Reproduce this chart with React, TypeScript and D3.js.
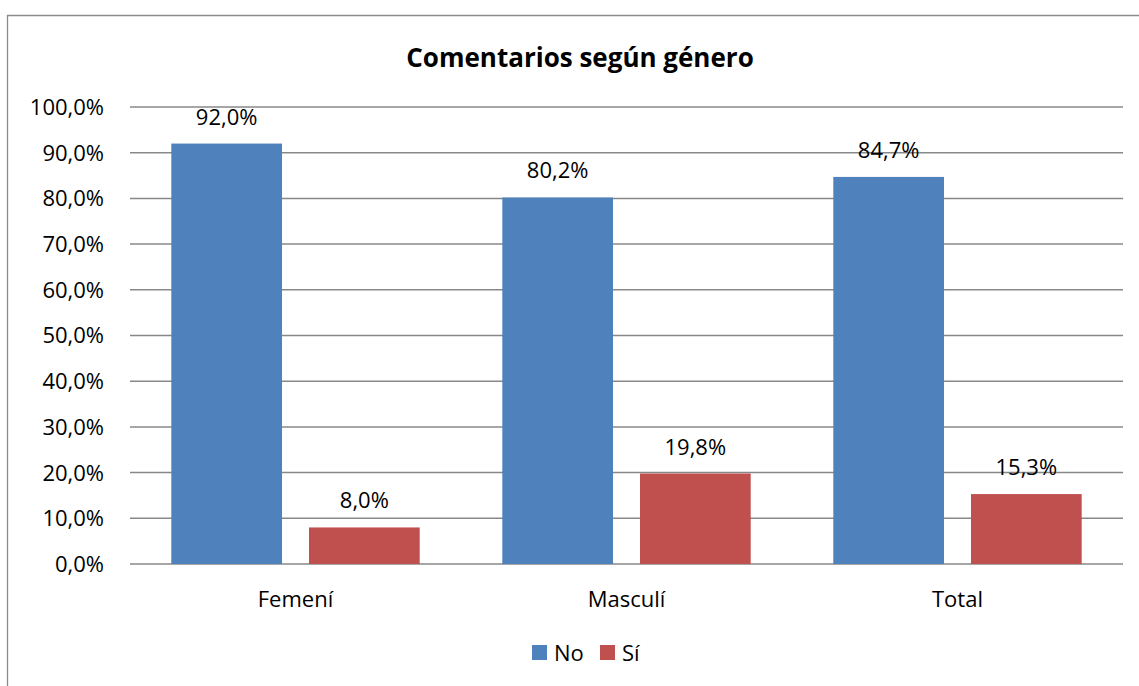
import React from "react"
import * as d3 from "d3"

const categories = ["Femení", "Masculí", "Total"]
const seriesNames = ["No", "Sí"]
const noValues = [92.0, 80.2, 84.7]
const siValues = [8.0, 19.8, 15.3]
const yTicks = [0, 10, 20, 30, 40, 50, 60, 70, 80, 90, 100]

const colors = ["#4F81BD", "#C0504D"]
const font = "'Open Sans', 'Noto Sans', sans-serif"

const fmt = (v: number) => v.toFixed(1).replace(".", ",") + "%"

const App = () => {
  const width = 1139
  const height = 686
  const plotLeft = 130
  const plotRight = 1123
  const plotTop = 107
  const plotBottom = 564
  const fs = 22

  const x = d3.scaleBand<string>()
    .domain(categories)
    .range([plotLeft, plotRight])
    .paddingInner(0)
    .paddingOuter(0)

  const inner = d3.scaleBand<string>()
    .domain(seriesNames)
    .range([0, x.bandwidth()])
    .paddingInner(0.196)
    .paddingOuter(0.3)

  const y = d3.scaleLinear().domain([0, 100]).range([plotBottom, plotTop])

  const series = [noValues, siValues]

  return (
    <svg width={width} height={height} style={{ display: "block", position: "absolute", left: 0, top: 0 }}>
      <rect x={0} y={0} width={width} height={height} fill="#fff" />
      {/* outer frame */}
      <path d={`M7.5,${height + 5} L7.5,15.5 L${width + 5},15.5`} fill="none" stroke="#8c8c8c" strokeWidth={1.3} />

      <text x={580} y={67} textAnchor="middle" fontFamily={font} fontWeight="bold" fontSize={26} fill="#000">
        Comentarios según género
      </text>

      {/* gridlines */}
      {yTicks.map(t => (
        <g key={t}>
          <line x1={plotLeft} x2={plotRight} y1={y(t)} y2={y(t)} stroke="#888" strokeWidth={1.5} />
          <text x={104} y={y(t)} dy="0.36em" textAnchor="end" fontFamily={font} fontSize={fs} fill="#000">
            {fmt(t)}
          </text>
        </g>
      ))}

      {/* bars */}
      {categories.map((c, ci) => (
        <g key={c} transform={`translate(${x(c)},0)`}>
          {seriesNames.map((s, si) => {
            const v = series[si][ci]
            const bx = inner(s) as number
            return (
              <g key={s}>
                <rect x={bx} y={y(v)} width={inner.bandwidth()} height={plotBottom - y(v)} fill={colors[si]} />
                <text x={bx + inner.bandwidth() / 2} y={y(v) - 19} textAnchor="middle" fontFamily={font} fontSize={fs} fill="#000">
                  {fmt(v)}
                </text>
              </g>
            )
          })}
          <text x={x.bandwidth() / 2} y={607} textAnchor="middle" fontFamily={font} fontSize={fs} fill="#000">
            {c}
          </text>
        </g>
      ))}

      {/* legend */}
      {seriesNames.map((s, i) => {
        const lx = 532 + i * 68
        return (
          <g key={s}>
            <rect x={lx} y={645} width={15} height={15} fill={colors[i]} />
            <text x={lx + 22} y={661} fontFamily={font} fontSize={fs} fill="#000">{s}</text>
          </g>
        )
      })}
    </svg>
  )
}

export default App
